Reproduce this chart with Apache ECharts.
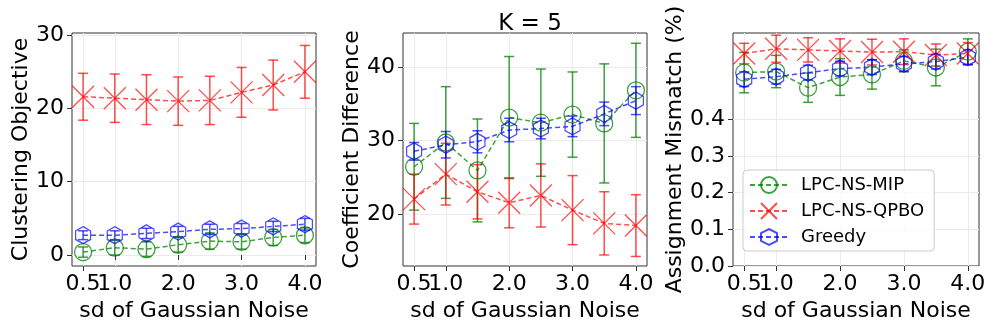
<!DOCTYPE html>
<html>
<head>
<meta charset="utf-8">
<script src="https://cdn.jsdelivr.net/npm/echarts@6/dist/echarts.min.js"></script>
<style>
  html, body { margin: 0; padding: 0; background: #fff; }
  #main { width: 997px; height: 332px; }
</style>
</head>
<body>
<div id="main"></div>
<script>
var myChart = echarts.init(document.getElementById('main'));

var noise = [0.5, 1.0, 1.5, 2.0, 2.5, 3.0, 3.5, 4.0];
var noiseTicks = [1.0, 2.0, 3.0, 4.0];
var noiseFirstTick = [0.5];
var methods = ['LPC-NS-MIP', 'LPC-NS-QPBO', 'Greedy'];

// clustering objective
var obj_mip = [0.4, 1.0, 0.8, 1.4, 1.9, 1.8, 2.4, 2.7];
var obj_mip_sd = [0.7, 1.0, 1.0, 1.0, 1.1, 1.0, 1.1, 1.0];
var obj_qpbo = [21.6, 21.4, 21.2, 21.0, 21.1, 22.2, 23.2, 25.0];
var obj_qpbo_sd = [3.2, 3.3, 3.4, 3.3, 3.3, 3.4, 3.4, 3.6];
var obj_greedy = [2.7, 2.7, 2.95, 3.2, 3.5, 3.6, 3.9, 4.2];
var obj_greedy_sd = [0.6, 0.6, 0.7, 0.7, 0.7, 0.7, 0.7, 0.8];

// coefficient difference
var coef_mip = [26.4, 29.7, 25.9, 33.1, 32.4, 33.5, 32.3, 36.8];
var coef_mip_sd = [5.9, 7.6, 7.0, 8.3, 7.3, 5.8, 8.1, 6.4];
var coef_qpbo = [22.0, 25.4, 23.0, 21.5, 22.5, 20.5, 18.7, 18.4];
var coef_qpbo_sd = [3.4, 4.2, 3.7, 3.4, 4.3, 4.7, 4.3, 4.2];
var coef_greedy = [28.5, 29.4, 29.8, 31.4, 31.6, 31.9, 33.6, 35.4];
var coef_greedy_sd = [1.2, 1.8, 1.5, 1.6, 1.4, 1.4, 1.6, 1.9];

// assignment mismatch
var mis_mip = [0.527, 0.530, 0.486, 0.515, 0.522, 0.559, 0.541, 0.584];
var mis_mip_sd = [0.055, 0.044, 0.040, 0.050, 0.040, 0.030, 0.050, 0.035];
var mis_qpbo = [0.579, 0.592, 0.589, 0.586, 0.583, 0.584, 0.575, 0.579];
var mis_qpbo_sd = [0.028, 0.037, 0.033, 0.033, 0.035, 0.035, 0.030, 0.030];
var mis_greedy = [0.509, 0.516, 0.527, 0.538, 0.542, 0.551, 0.557, 0.569];
var mis_greedy_sd = [0.020, 0.020, 0.020, 0.020, 0.020, 0.020, 0.020, 0.020];

var yTicks1 = [0, 10, 20, 30];
var yTicks2 = [20, 30, 40];
var yTicks3 = [0, 0.1, 0.2, 0.3, 0.4];

var colors = ['rgba(0,128,0,0.75)', 'rgba(255,0,0,0.7)', 'rgba(0,0,255,0.7)'];
var symbols = [
  'circle',
  'path://M0,0L100,100M100,0L0,100',
  'path://M50,0L93.3,25L93.3,75L50,100L6.7,75L6.7,25Z'
];
var symbolSizes = [17, 22, [15, 17]];

var panels = [
  { means: [obj_mip, obj_qpbo, obj_greedy], sds: [obj_mip_sd, obj_qpbo_sd, obj_greedy_sd],
    name: 'Clustering Objective', min: -1.5, max: 30.3, ticks: yTicks1, dec: 0, left: 72, width: 244 },
  { means: [coef_mip, coef_qpbo, coef_greedy], sds: [coef_mip_sd, coef_qpbo_sd, coef_greedy_sd],
    name: 'Coefficient Difference', min: 12.9, max: 44.6, ticks: yTicks2, dec: 0, left: 403, width: 244 },
  { means: [mis_mip, mis_qpbo, mis_greedy], sds: [mis_mip_sd, mis_qpbo_sd, mis_greedy_sd],
    name: 'Assignment Mismatch (%)', min: 0, max: 0.635, ticks: yTicks3, dec: 1, left: 733, width: 246 }
];

var font = 'DejaVu Sans';
var grids = [], xAxes = [], yAxes = [], series = [];

function errorBar(params, api) {
  var x = api.value(0);
  var lo = api.coord([x, api.value(1)]);
  var hi = api.coord([x, api.value(2)]);
  var c = api.visual('color');
  var st = { stroke: c, lineWidth: 1.5 };
  return {
    type: 'group',
    children: [
      { type: 'line', shape: { x1: lo[0], y1: lo[1], x2: hi[0], y2: hi[1] }, style: st },
      { type: 'line', shape: { x1: lo[0] - 5, y1: lo[1], x2: lo[0] + 5, y2: lo[1] }, style: st },
      { type: 'line', shape: { x1: hi[0] - 5, y1: hi[1], x2: hi[0] + 5, y2: hi[1] }, style: st }
    ]
  };
}

function xAxisFor(i, ticks, withName) {
  return {
    type: 'value', gridIndex: i, position: 'bottom', min: 0.325, max: 4.175,
    name: withName ? 'sd of Gaussian Noise' : '', nameLocation: 'middle', nameGap: 31,
    nameTextStyle: { fontFamily: font, fontSize: 22, color: '#000' },
    axisLine: { show: false },
    axisTick: { show: true, length: 5, customValues: ticks, lineStyle: { color: '#333' } },
    axisLabel: {
      customValues: ticks, fontFamily: font, fontSize: 22, color: '#000', margin: 7,
      formatter: function (v) { return v.toFixed(1); }
    },
    splitLine: { show: true, lineStyle: { color: '#ebebeb', width: 1 } }
  };
}

panels.forEach(function (p, i) {
  grids.push({
    left: p.left, top: 33, width: p.width, height: 233,
    show: true, borderColor: '#333', borderWidth: 1, backgroundColor: 'transparent'
  });
  xAxes.push(xAxisFor(i, noiseTicks, true));
  xAxes.push(xAxisFor(i, noiseFirstTick, false));
  yAxes.push({
    type: 'value', gridIndex: i, min: p.min, max: p.max,
    name: p.name, nameLocation: 'middle', nameGap: 39,
    nameTextStyle: { fontFamily: font, fontSize: 22, color: '#000' },
    axisLine: { show: false },
    axisTick: { show: true, length: 5, customValues: p.ticks, lineStyle: { color: '#333' } },
    axisLabel: {
      customValues: p.ticks, fontFamily: font, fontSize: 22, color: '#000', margin: 8,
      formatter: (function (d) { return function (v) { return v.toFixed(d); }; })(p.dec)
    },
    splitLine: { show: true, lineStyle: { color: '#ebebeb', width: 1 } }
  });
  for (var k = 0; k < 3; k++) {
    var pts = [], bars = [];
    for (var j = 0; j < noise.length; j++) {
      pts.push([noise[j], p.means[k][j]]);
      bars.push([noise[j], p.means[k][j] - p.sds[k][j], p.means[k][j] + p.sds[k][j]]);
    }
    series.push({
      type: 'custom', xAxisIndex: 2 * i, yAxisIndex: i,
      renderItem: errorBar, data: bars, clip: false,
      itemStyle: { color: colors[k] },
      encode: { x: 0, y: [1, 2] }, silent: true, z: 2
    });
    series.push({
      name: methods[k], type: 'line', xAxisIndex: 2 * i, yAxisIndex: i,
      data: pts, symbol: symbols[k], symbolSize: symbolSizes[k],
      showAllSymbol: true, animation: false, z: 3,
      lineStyle: { color: colors[k], type: [5, 3], width: 1.5 },
      itemStyle: { color: 'transparent', borderColor: colors[k], borderWidth: 1.3 }
    });
  }
});

var option = {
  backgroundColor: '#fff',
  animation: false,
  title: {
    text: 'K = 5', left: 525, top: 8, textAlign: 'center',
    textStyle: { fontFamily: font, fontSize: 23, fontWeight: 'normal', color: '#000' }
  },
  legend: {
    data: methods, orient: 'vertical', left: 743, top: 170,
    padding: [6, 10, 5, 6], itemGap: 8, itemWidth: 38, itemHeight: 20,
    backgroundColor: 'rgba(255,255,255,0.8)', borderColor: '#ccc', borderWidth: 1, borderRadius: 4,
    textStyle: { fontFamily: font, fontSize: 18, color: '#000', padding: [0, 0, 0, 8] }
  },
  grid: grids,
  xAxis: xAxes,
  yAxis: yAxes,
  series: series
};

myChart.setOption(option);
</script>
</body>
</html>
